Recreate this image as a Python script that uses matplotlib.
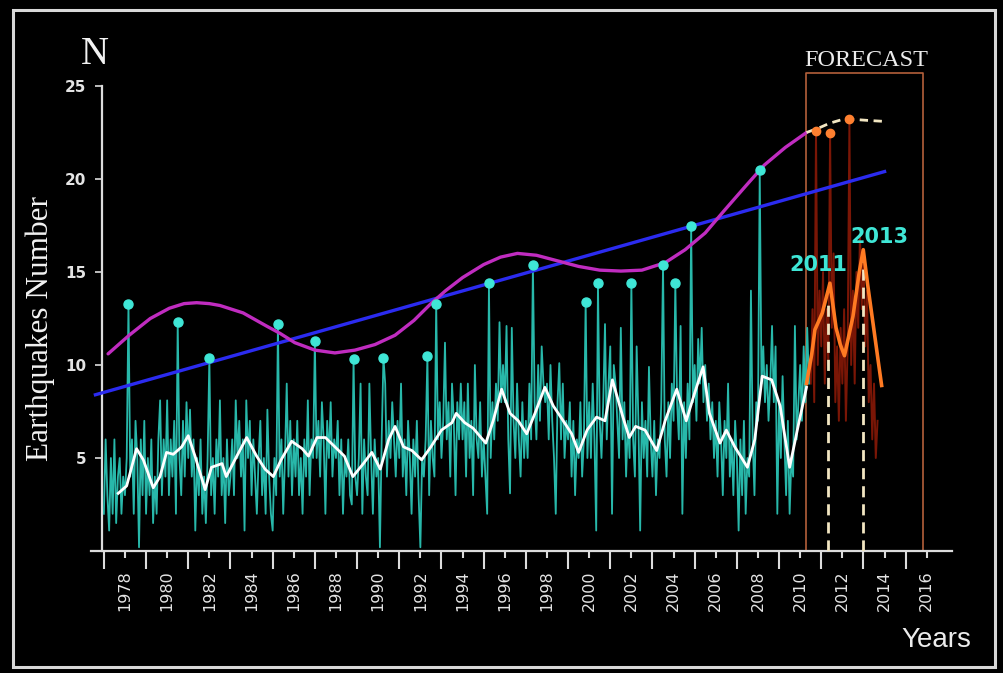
import numpy as np
import matplotlib.pyplot as plt
from matplotlib.patches import Rectangle

# ---- data ----
# monthly earthquake counts, Jan 1977 .. Jun 2010 (teal line)
start_year = 1977
monthly_counts = [
    2, 6, 3, 1.1, 5, 2, 6, 1.5, 4, 5, 2, 4,          # 1977
    3, 5, 13.3, 4, 6, 2, 7, 5, 0.2, 6, 3, 7,         # 1978
    2, 5, 3, 6, 1.5, 4, 2, 6, 8.1, 3, 6, 4,          # 1979
    8.1, 3, 6, 4, 7, 2, 12.3, 5, 3, 7, 4, 8,         # 1980
    5, 7.6, 4, 6, 1.1, 5, 3, 6, 2, 4, 1.5, 5,        # 1981
    10.4, 3, 5, 2, 6, 4, 8.1, 3, 5, 1.5, 6, 3,       # 1982
    4, 6, 3, 8.1, 5, 7, 4, 6, 1.1, 8.1, 5, 7,        # 1983
    3, 6, 4, 2, 5, 7, 3, 5, 2, 7.6, 4, 2,            # 1984
    1.1, 5, 3, 12.2, 4, 6, 2, 5, 9.0, 4, 7, 3,       # 1985
    6, 4, 7, 3, 5, 2, 6, 4, 8.1, 3, 6, 5,            # 1986
    11.3, 5, 7, 4, 8, 6, 2, 7, 5, 8, 4, 6,           # 1987
    5, 7, 3, 6, 2, 5, 4, 6, 3, 2.5, 10.3, 4,         # 1988
    3, 5, 9.0, 2, 6, 4, 3, 9.0, 5, 2, 6, 4,          # 1989
    5, 0.2, 6, 10.4, 9.0, 4, 7, 5, 8, 6, 4, 7,       # 1990
    5, 9.0, 4, 6, 3, 7, 5, 2, 6, 4, 7, 3,            # 1991
    0.2, 5, 4, 6, 10.5, 3, 7, 5, 4, 13.3, 6, 8,      # 1992
    5, 7, 11.2, 6, 8, 4, 9, 7, 3, 8, 6, 9,           # 1993
    6, 8, 4, 9, 5, 7, 3, 10, 6, 5, 8, 4,             # 1994
    6, 4, 2.0, 14.4, 5, 8, 6, 9, 7, 12.3, 8, 10,     # 1995
    8, 12.1, 6, 3.1, 12.0, 7, 5, 9, 6, 4, 8, 5,      # 1996
    7, 5, 9, 6, 15.4, 8, 6, 10, 7, 11, 9, 8,         # 1997
    9, 6, 10, 7, 5, 2.0, 8, 10.1, 6, 9, 5, 7,        # 1998
    6, 8, 4, 7, 3, 6, 5, 8, 4, 6, 13.4, 5,           # 1999
    8, 5, 9, 6, 1.1, 14.4, 7, 5, 8, 12.2, 6, 9,      # 2000
    11, 2.0, 10, 9, 7, 5, 12.0, 6, 8, 4, 7, 5,       # 2001
    14.4, 6, 4, 11.0, 7, 1.1, 8, 5, 7, 4, 9.9, 6,    # 2002
    4, 7, 3, 6, 5, 8, 15.4, 6, 4, 8, 5, 9,           # 2003
    7, 14.4, 8, 6, 12.1, 2.0, 8, 5, 9, 6, 17.5, 8,   # 2004
    10, 7, 11.4, 9, 12, 8, 10, 7, 9, 6, 8, 5,        # 2005
    7, 4, 8, 6, 3, 7, 5, 9, 4, 6, 3, 7,              # 2006
    5, 1.1, 6, 3, 7, 2, 5, 4, 14.0, 6, 3, 8,         # 2007
    7, 20.5, 9, 11, 8, 10, 7, 9, 12.1, 8, 11, 2.0,   # 2008
    8, 5, 9.4, 6, 3, 7, 2, 5, 4, 12.1, 6, 8,         # 2009
    10, 7, 11, 8, 12, 9,                             # 2010
]

# peaks marked with cyan dots (year, month)
peak_dates = [(1978, 3), (1980, 7), (1982, 1), (1985, 4), (1987, 1), (1988, 11),
              (1990, 4), (1992, 5), (1992, 10), (1995, 4), (1997, 5), (1999, 11),
              (2000, 6), (2002, 1), (2003, 7), (2004, 2), (2004, 11), (2008, 2)]

# white smoothed curve
smooth_years = [1977.68, 1978.08, 1978.55, 1978.87, 1979.34, 1979.66, 1979.97, 1980.29,
                1980.69, 1981.0, 1981.32, 1981.8, 1982.1, 1982.6, 1982.8, 1983.3,
                1983.77, 1984.24, 1984.64, 1985.03, 1985.4, 1985.9, 1986.4, 1986.7,
                1987.1, 1987.5, 1987.95, 1988.4, 1988.8, 1989.3, 1989.7, 1990.1,
                1990.5, 1990.8, 1991.2, 1991.6, 1992.06, 1992.5, 1993.0, 1993.5,
                1993.7, 1994.1, 1994.5, 1995.1, 1995.45, 1995.85, 1996.25, 1996.64,
                1997.04, 1997.43, 1997.9, 1998.3, 1998.77, 1999.17, 1999.5, 1999.9,
                2000.35, 2000.75, 2001.1, 2001.6, 2001.9, 2002.2, 2002.65, 2003.2,
                2003.6, 2004.15, 2004.6, 2005.0, 2005.4, 2005.7, 2006.2, 2006.5,
                2006.9, 2007.5, 2007.85, 2008.2, 2008.65, 2009.05, 2009.5, 2009.9, 2010.3]
smooth_vals = [3.1, 3.5, 5.5, 4.9, 3.4, 4.0, 5.3, 5.2,
               5.6, 6.2, 5.1, 3.3, 4.5, 4.7, 4.0, 5.1,
               6.1, 5.1, 4.4, 4.0, 4.9, 5.9, 5.5, 5.1,
               6.1, 6.1, 5.6, 5.1, 4.0, 4.7, 5.3, 4.4,
               6.0, 6.7, 5.6, 5.4, 4.9, 5.6, 6.5, 6.9,
               7.4, 6.9, 6.6, 5.8, 7.0, 8.7, 7.4, 7.0,
               6.3, 7.4, 8.8, 7.8, 7.0, 6.3, 5.3, 6.5,
               7.2, 7.0, 9.2, 7.2, 6.1, 6.7, 6.5, 5.4,
               7.0, 8.7, 7.0, 8.5, 9.9, 7.4, 5.8, 6.5,
               5.6, 4.5, 6.0, 9.4, 9.2, 7.8, 4.5, 6.7, 8.8]

# magenta long-period wave
wave_years = [1977.2, 1978.2, 1979.2, 1980.1, 1980.8, 1981.4, 1982.0, 1982.5, 1983.6,
              1984.7, 1985.35, 1986.05, 1987.0, 1987.95, 1988.9, 1989.85, 1990.8,
              1991.7, 1992.5, 1993.2, 1994.0, 1995.0, 1995.8, 1996.6, 1997.5, 1998.5,
              1999.5, 2000.5, 2001.5, 2002.5, 2003.6, 2004.55, 2005.5, 2006.4, 2007.4,
              2008.3, 2009.3, 2010.3]
wave_vals = [10.6, 11.6, 12.5, 13.05, 13.3, 13.35, 13.3, 13.2, 12.8,
             12.1, 11.7, 11.2, 10.8, 10.65, 10.8, 11.1, 11.6,
             12.4, 13.3, 14.0, 14.7, 15.4, 15.8, 16.0, 15.9, 15.6,
             15.3, 15.1, 15.05, 15.1, 15.5, 16.2, 17.1, 18.3, 19.6,
             20.75, 21.7, 22.5]

# blue linear trend (end points)
trend_years = [1976.6, 2014.0]
trend_vals = [8.4, 20.4]

# forecast: dark red monthly values from Jul 2010
forecast_start = 2010.5
forecast_counts = [
    9, 13, 8, 22.6, 10, 14,                          # 2010 Jul-Dec
    11, 15, 9, 13, 10, 22.5, 12, 16, 8, 11, 7, 12,   # 2011
    9, 13, 7, 11, 23.2, 10, 14, 9, 15, 12, 17, 13,   # 2012
    16, 11, 14, 8, 10, 6, 9, 5, 7,                   # 2013
]
forecast_peak_idx = [3, 11, 22]

# forecast wave continuation (dashed cream)
fwave_years = [2010.3, 2010.9, 2011.4, 2012.0, 2012.6, 2013.2, 2013.95]
fwave_vals = [22.5, 22.75, 23.0, 23.2, 23.2, 23.15, 23.1]

# orange forecast curve
orange_years = [2010.3, 2010.55, 2010.7, 2011.05, 2011.41, 2011.7, 2011.9, 2012.1,
                2012.5, 2012.8, 2012.99, 2013.2, 2013.47, 2013.7, 2013.86]
orange_vals = [9.0, 10.6, 11.9, 12.8, 14.4, 12.0, 11.1, 10.5,
               12.6, 15.0, 16.2, 14.3, 12.1, 10.2, 8.9]

# forecast peaks (dashed verticals) and their labels
fc_peak_years = [2011.3, 2013.0]
fc_peak_tops = [13.3, 15.6]
fc_labels = ['2011', '2013']

forecast_box = (2010.27, 2015.8, 25.68)  # left, right, top

year_ticks = list(range(1978, 2017, 2))
minor_ticks = list(range(1977, 2016, 2))
y_ticks = [5, 10, 15, 20, 25]

# ---- colours ----
TEAL = '#28b8aa'
CYAN = '#3fe6d6'
MAGENTA = '#c02cc0'
BLUE = '#2b2bf0'
ORANGE = '#ff7a22'
DARKRED = '#7a1606'
BOX = '#b4603a'
CREAM = '#f2e6c2'
AXIS = '#dcdcdc'

W, H = 1004, 673
fig = plt.figure(figsize=(W / 100, H / 100), dpi=100, facecolor='black')
ax = fig.add_axes([91.2 / W, 122 / H, 860.9 / W, 492.9 / H])
ax.set_facecolor('black')

month_years = start_year + np.arange(len(monthly_counts)) / 12.0
fc_years = forecast_start + np.arange(len(forecast_counts)) / 12.0

# forecast box and dark red forecast bars
fl, fr, ft = forecast_box
ax.plot([fl, fl, fr, fr], [0, ft, ft, 0], color=BOX, lw=1.2, zorder=1)
ax.plot(fc_years, forecast_counts, color=DARKRED, lw=1.4, zorder=2)

# monthly series
ax.plot(month_years, monthly_counts, color=TEAL, lw=1.3, zorder=3)

# trend and wave
ax.plot(trend_years, trend_vals, color=BLUE, lw=2.4, zorder=4)
ax.plot(wave_years, wave_vals, color=MAGENTA, lw=2.4, zorder=4, solid_capstyle='round')
ax.plot(fwave_years, fwave_vals, color=CREAM, lw=2.0, ls=(0, (3, 2)), zorder=4)

# smoothed
ax.plot(smooth_years, smooth_vals, color='white', lw=2.0, zorder=5)

# peak dots
idx = [(y - start_year) * 12 + (m - 1) for y, m in peak_dates]
ax.plot(month_years[idx], np.array(monthly_counts)[idx], 'o', color=CYAN, ms=6.5, zorder=6)
ax.plot(fc_years[forecast_peak_idx], np.array(forecast_counts)[forecast_peak_idx], 'o',
        color='#ff8030', ms=6, zorder=6)

# forecast curve and dashed verticals
for x, top in zip(fc_peak_years, fc_peak_tops):
    ax.plot([x, x], [0, top], color=CREAM, lw=2.0, ls=(0, (4, 2.5)), zorder=6)
ax.plot(orange_years, orange_vals, color=ORANGE, lw=2.6, zorder=7)
ax.text(2010.85, 15.4, fc_labels[0], color=CYAN, fontsize=15, fontweight='bold',
        ha='center', va='center', family='DejaVu Sans', zorder=8)
ax.text(2013.75, 16.9, fc_labels[1], color=CYAN, fontsize=15, fontweight='bold',
        ha='center', va='center', family='DejaVu Sans', zorder=8)

# axes styling
ax.set_xlim(1976.4, 2017.2)
ax.set_ylim(0, 26.5)
for s in ['top', 'right']:
    ax.spines[s].set_visible(False)
ax.spines['left'].set_position(('data', 1976.9))
ax.spines['left'].set_bounds(0, 25)
ax.spines['bottom'].set_position(('data', 0))
for s in ['left', 'bottom']:
    ax.spines[s].set_color(AXIS)
    ax.spines[s].set_linewidth(1.6)

ax.set_xticks(year_ticks)
ax.set_xticklabels([str(y) for y in year_ticks], rotation=90, family='DejaVu Sans')
ax.set_xticks(minor_ticks, minor=True)
ax.tick_params(axis='x', which='major', length=5, width=1.5, color=AXIS, pad=9,
               labelsize=11.5, labelcolor='#e4e4e4')
ax.tick_params(axis='x', which='minor', length=13, width=1.5, color=AXIS)
ax.set_yticks(y_ticks)
ax.set_yticklabels([str(v) for v in y_ticks], family='DejaVu Sans', fontweight='bold')
ax.tick_params(axis='y', length=5, width=1.2, color=AXIS, pad=6, labelsize=11,
               labelcolor='#e4e4e4')

# titles
fig.text(95 / W, 1 - 55 / H, 'N', color='#f2f2f2', fontsize=28, family='Liberation Serif',
         ha='center', va='center')
fig.text(40 / W, 1 - 328 / H, 'Earthquakes Number', color='#f2f2f2', fontsize=22.5,
         family='Liberation Serif', rotation=90, ha='center', va='center')
fig.text(866 / W, 1 - 60 / H, 'FORECAST', color='#ececec', fontsize=17.5,
         family='Liberation Serif', ha='center', va='center')
fig.text(936 / W, 1 - 640 / H, 'Years', color='#ececec', fontsize=20,
         family='Liberation Sans', ha='center', va='center')

# outer frame
fig.add_artist(Rectangle((13 / W, 1 - 667 / H), 982 / W, 657 / H, transform=fig.transFigure,
                         fill=False, edgecolor='#d8d8d8', lw=2.2))

fig.savefig('out.png', dpi=100, facecolor='black')
